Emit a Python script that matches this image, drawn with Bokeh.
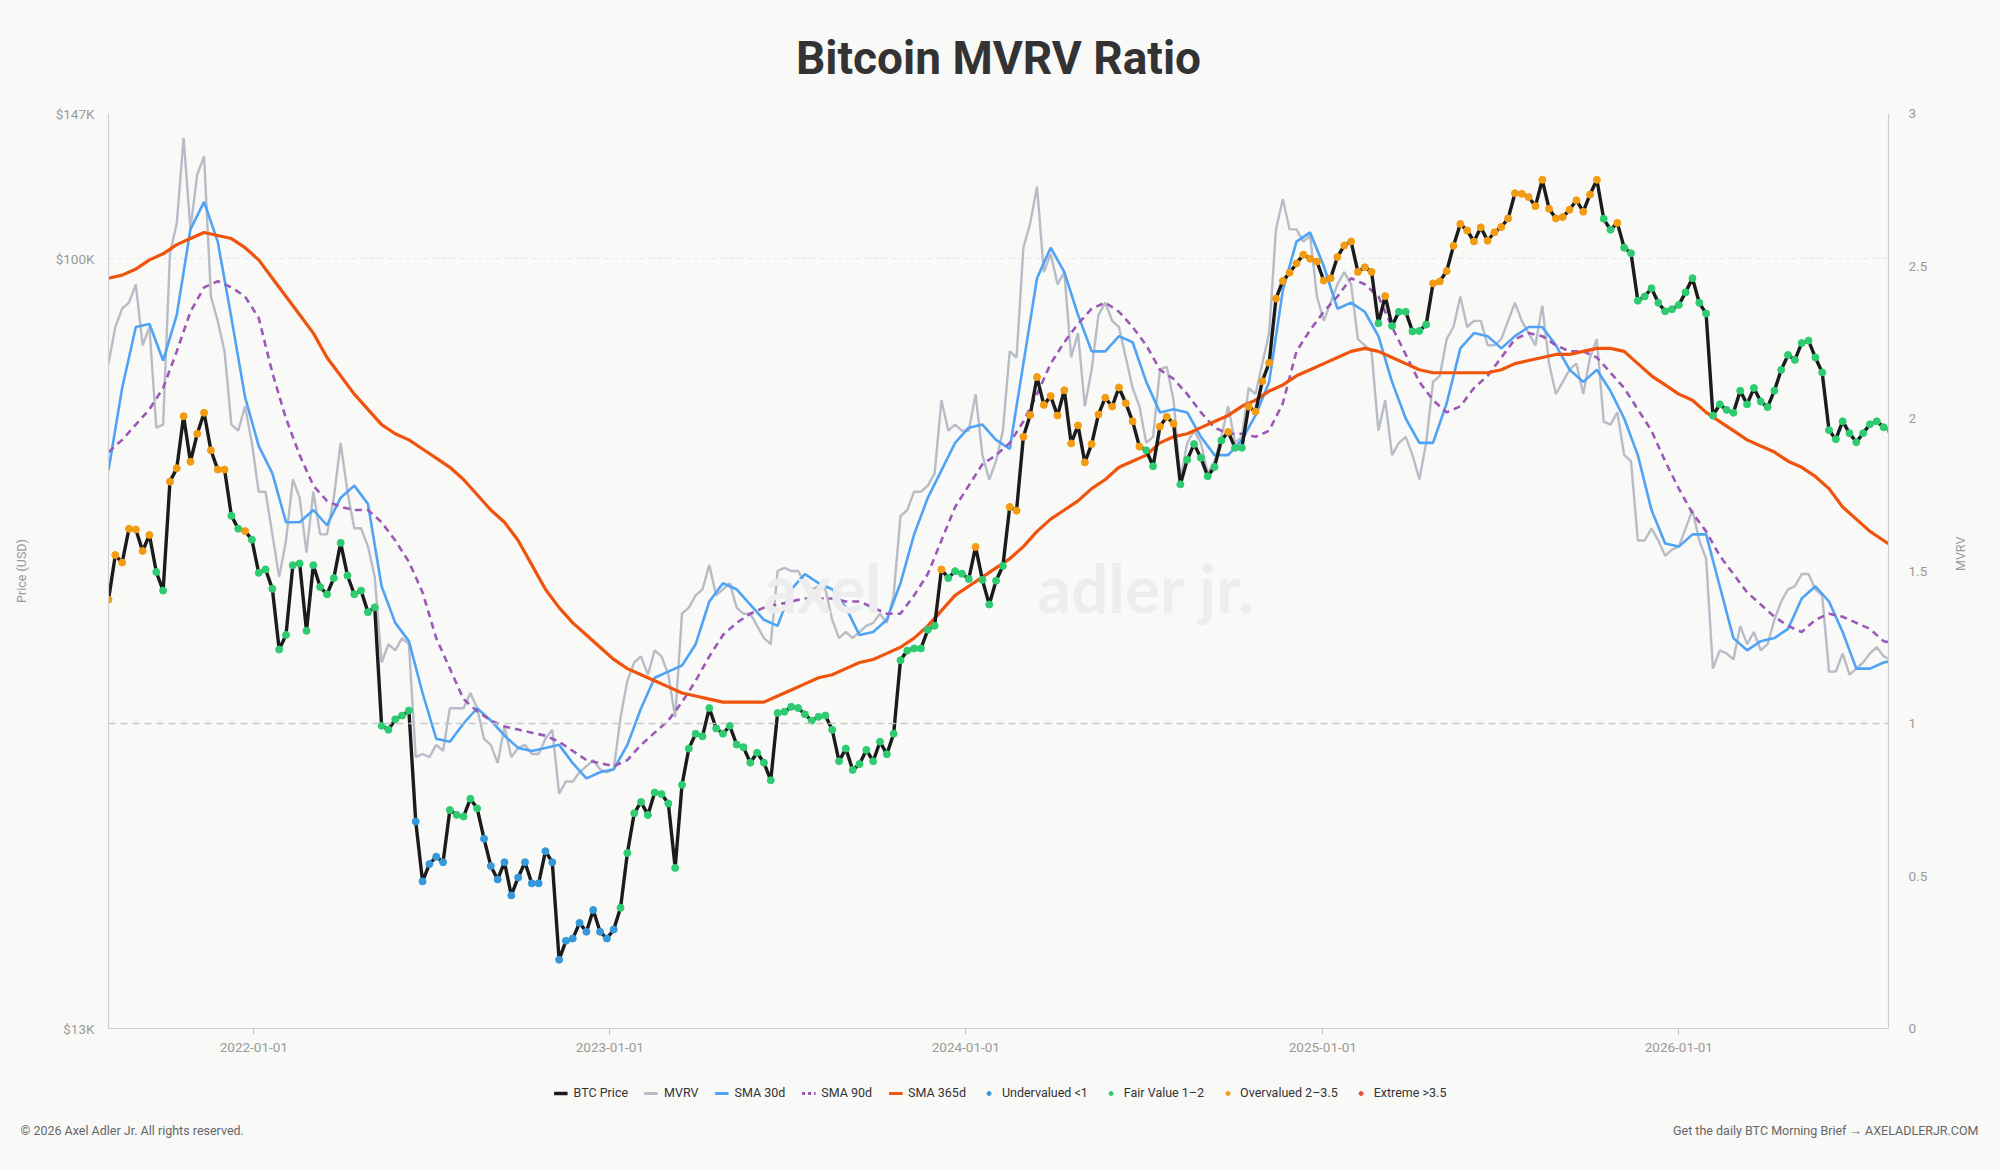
import numpy as np
import pandas as pd
from bokeh.plotting import figure
from bokeh.layouts import column
from bokeh.models import (ColumnDataSource, Range1d, LinearAxis, LinearScale, FixedTicker, Span,
                          Legend, LegendItem, Label, DatetimeTickFormatter)
from bokeh.embed import file_html
from bokeh.resources import INLINE

# ---------------- data (weekly samples) ----------------
start_date = "2021-08-05"
end_date = "2026-08-04"

# BTC price, thousands of USD, weekly
price_k = [
    40.5, 45.6, 44.7, 48.9, 48.8, 46.1, 48.1, 43.6, 41.5, 55.4,
    57.4, 65.9, 58.4, 62.9, 66.5, 60.2, 57.2, 57.2, 50.6, 48.9,
    48.6, 47.5, 43.5, 43.9, 41.7, 35.5, 36.9, 44.4, 44.6, 37.3,
    44.4, 41.9, 41.1, 42.9, 47.1, 43.2, 41.1, 41.5, 39.2, 39.7,
    29.0, 28.7, 29.5, 29.8, 30.2, 22.5, 19.2, 20.1, 20.5, 20.2,
    23.2, 22.9, 22.8, 23.9, 23.3, 21.5, 20.0, 19.3, 20.2, 18.5,
    19.4, 20.2, 19.1, 19.1, 20.8, 20.2, 15.6, 16.4, 16.5, 17.2,
    16.8, 17.8, 16.8, 16.5, 16.9, 17.9, 20.7, 23.0, 23.7, 22.9,
    24.3, 24.2, 23.6, 19.9, 24.8, 27.3, 28.4, 28.2, 30.4, 28.8,
    28.4, 29.0, 27.6, 27.4, 26.3, 27.0, 26.3, 25.1, 30.0, 30.1,
    30.5, 30.4, 29.9, 29.4, 29.7, 29.8, 28.7, 26.4, 27.3, 25.8,
    26.2, 27.2, 26.4, 27.8, 26.9, 28.4, 34.5, 35.4, 35.6, 35.6,
    37.4, 37.8, 43.9, 42.9, 43.7, 43.4, 42.8, 46.6, 42.7, 40.0,
    42.6, 44.3, 51.8, 51.3, 62.4, 66.1, 73.1, 67.9, 69.5, 66.0,
    70.6, 61.3, 64.3, 58.3, 61.2, 66.2, 69.2, 67.6, 71.1, 68.2,
    65.0, 60.8, 60.2, 57.7, 64.1, 65.8, 64.6, 55.0, 58.7, 61.2,
    59.0, 56.2, 57.6, 61.8, 63.2, 60.6, 60.6, 67.6, 66.7, 72.3,
    75.9, 90.0, 94.3, 96.4, 98.8, 101.1, 100.0, 99.3, 94.4, 95.0,
    100.5, 103.6, 104.7, 96.6, 97.8, 96.6, 84.3, 90.6, 83.7, 86.9,
    86.9, 82.5, 82.6, 84.0, 93.7, 94.2, 96.8, 103.5, 109.7, 107.8,
    104.7, 108.7, 104.9, 107.3, 108.8, 111.3, 119.0, 118.8, 117.8, 115.0,
    123.3, 114.2, 111.3, 111.7, 113.9, 116.8, 113.3, 118.6, 123.3, 111.2,
    108.0, 110.0, 103.0, 101.5, 89.5, 90.5, 92.5, 89.0, 87.0, 87.5,
    88.5, 91.5, 95.0, 89.0, 86.5, 66.0, 68.0, 67.0, 66.5, 70.5,
    68.0, 71.0, 68.5, 67.5, 70.5, 74.5, 77.5, 76.5, 80.0, 80.5,
    77.0, 74.0, 63.5, 62.0, 65.0, 63.0, 61.5, 63.0, 64.5, 65.0,
    64.0, 63.5,
]

# MVRV ratio, weekly
mvrv = [
    2.18, 2.30, 2.36, 2.38, 2.44, 2.24, 2.30, 1.97, 1.98, 2.54,
    2.64, 2.92, 2.62, 2.80, 2.86, 2.40, 2.32, 2.22, 1.98, 1.96,
    2.04, 1.92, 1.76, 1.76, 1.62, 1.48, 1.60, 1.80, 1.74, 1.56,
    1.76, 1.62, 1.62, 1.74, 1.92, 1.76, 1.64, 1.64, 1.58, 1.48,
    1.20, 1.26, 1.24, 1.28, 1.26, 0.89, 0.90, 0.89, 0.93, 0.91,
    1.05, 1.05, 1.05, 1.10, 1.05, 0.95, 0.93, 0.87, 0.99, 0.89,
    0.92, 0.93, 0.90, 0.90, 0.95, 0.98, 0.77, 0.81, 0.81, 0.84,
    0.86, 0.88, 0.85, 0.84, 0.85, 1.02, 1.14, 1.20, 1.22, 1.16,
    1.24, 1.22, 1.16, 1.02, 1.36, 1.38, 1.42, 1.44, 1.52, 1.42,
    1.44, 1.46, 1.38, 1.36, 1.36, 1.32, 1.28, 1.26, 1.50, 1.51,
    1.50, 1.50, 1.46, 1.44, 1.45, 1.44, 1.34, 1.28, 1.30, 1.28,
    1.30, 1.32, 1.33, 1.36, 1.33, 1.42, 1.68, 1.70, 1.76, 1.76,
    1.78, 1.82, 2.06, 1.96, 1.98, 1.96, 1.96, 2.08, 1.88, 1.80,
    1.86, 1.96, 2.22, 2.20, 2.56, 2.64, 2.76, 2.48, 2.54, 2.44,
    2.48, 2.20, 2.28, 2.04, 2.16, 2.34, 2.38, 2.32, 2.30, 2.20,
    2.10, 2.04, 1.92, 1.94, 2.16, 2.17, 2.06, 1.80, 1.92, 1.96,
    1.92, 1.82, 1.86, 1.94, 2.04, 1.92, 1.94, 2.10, 2.08, 2.18,
    2.28, 2.62, 2.72, 2.62, 2.62, 2.58, 2.60, 2.40, 2.32, 2.38,
    2.44, 2.48, 2.44, 2.26, 2.24, 2.22, 1.96, 2.06, 1.88, 1.92,
    1.94, 1.88, 1.80, 1.92, 2.12, 2.14, 2.26, 2.30, 2.40, 2.30,
    2.32, 2.32, 2.24, 2.24, 2.26, 2.32, 2.38, 2.32, 2.28, 2.24,
    2.37, 2.18, 2.08, 2.12, 2.16, 2.18, 2.08, 2.20, 2.26, 1.99,
    1.98, 2.02, 1.88, 1.86, 1.60, 1.60, 1.64, 1.60, 1.55, 1.57,
    1.58, 1.64, 1.70, 1.60, 1.54, 1.18, 1.24, 1.23, 1.21, 1.32,
    1.26, 1.30, 1.24, 1.26, 1.34, 1.40, 1.44, 1.45, 1.49, 1.49,
    1.44, 1.42, 1.17, 1.17, 1.23, 1.16, 1.18, 1.20, 1.23, 1.25,
    1.22, 1.21,
]

# Moving averages of MVRV, sampled every two weeks
sma30 = [
    1.83, 2.10, 2.30, 2.31, 2.19, 2.34, 2.62, 2.71, 2.58, 2.33,
    2.07, 1.91, 1.82, 1.66, 1.66, 1.70, 1.65, 1.74, 1.78, 1.72,
    1.45, 1.33, 1.27, 1.10, 0.95, 0.94, 1.00, 1.05, 1.01, 0.96,
    0.92, 0.91, 0.92, 0.93, 0.87, 0.82, 0.84, 0.85, 0.93, 1.05,
    1.15, 1.17, 1.19, 1.26, 1.40, 1.46, 1.44, 1.39, 1.34, 1.32,
    1.44, 1.49, 1.46, 1.44, 1.38, 1.29, 1.30, 1.34, 1.46, 1.62,
    1.74, 1.83, 1.92, 1.97, 1.98, 1.93, 1.90, 2.18, 2.46, 2.56,
    2.48, 2.34, 2.22, 2.22, 2.27, 2.25, 2.12, 2.02, 2.03, 2.02,
    1.94, 1.88, 1.88, 1.93, 2.01, 2.12, 2.42, 2.58, 2.61, 2.50,
    2.36, 2.38, 2.35, 2.27, 2.12, 2.00, 1.92, 1.92, 2.05, 2.23,
    2.28, 2.27, 2.23, 2.27, 2.30, 2.30, 2.24, 2.16, 2.12, 2.16,
    2.09, 2.00, 1.88, 1.70, 1.59, 1.58, 1.62, 1.62, 1.45, 1.28,
    1.24, 1.27, 1.28, 1.31, 1.41, 1.45, 1.40, 1.30, 1.18, 1.18,
    1.20, 1.21,
]
sma90 = [
    1.89, 1.93, 1.98, 2.03, 2.10, 2.22, 2.35, 2.43, 2.45, 2.43,
    2.40, 2.33, 2.15, 2.00, 1.88, 1.78, 1.73, 1.71, 1.70, 1.70,
    1.66, 1.60, 1.53, 1.43, 1.28, 1.18, 1.08, 1.04, 1.01, 0.99,
    0.98, 0.97, 0.96, 0.94, 0.91, 0.88, 0.87, 0.86, 0.88, 0.93,
    0.97, 1.01, 1.07, 1.14, 1.22, 1.29, 1.33, 1.36, 1.38, 1.39,
    1.40, 1.41, 1.41, 1.41, 1.40, 1.40, 1.38, 1.36, 1.36, 1.42,
    1.49, 1.60, 1.71, 1.78, 1.85, 1.88, 1.92, 1.99, 2.08, 2.18,
    2.25, 2.31, 2.36, 2.38, 2.35, 2.30, 2.24, 2.16, 2.13, 2.08,
    2.02, 1.97, 1.95, 1.95, 1.94, 1.96, 2.05, 2.22, 2.29, 2.35,
    2.40, 2.46, 2.44, 2.40, 2.30, 2.21, 2.12, 2.06, 2.02, 2.04,
    2.10, 2.14, 2.20, 2.26, 2.28, 2.27, 2.24, 2.22, 2.22, 2.20,
    2.15, 2.10, 2.03, 1.96, 1.86, 1.77, 1.69, 1.63, 1.55, 1.49,
    1.43, 1.39, 1.35, 1.32, 1.30, 1.34, 1.36, 1.35, 1.33, 1.31,
    1.27, 1.26,
]
sma365 = [
    2.46, 2.47, 2.49, 2.52, 2.54, 2.57, 2.59, 2.61, 2.60, 2.59,
    2.56, 2.52, 2.46, 2.40, 2.34, 2.28, 2.20, 2.14, 2.08, 2.03,
    1.98, 1.95, 1.93, 1.90, 1.87, 1.84, 1.80, 1.75, 1.70, 1.66,
    1.60, 1.52, 1.44, 1.38, 1.33, 1.29, 1.25, 1.21, 1.18, 1.16,
    1.14, 1.12, 1.10, 1.09, 1.08, 1.07, 1.07, 1.07, 1.07, 1.09,
    1.11, 1.13, 1.15, 1.16, 1.18, 1.20, 1.21, 1.23, 1.25, 1.28,
    1.32, 1.37, 1.42, 1.45, 1.48, 1.51, 1.54, 1.58, 1.63, 1.67,
    1.70, 1.73, 1.77, 1.80, 1.84, 1.86, 1.88, 1.92, 1.94, 1.95,
    1.97, 1.99, 2.01, 2.04, 2.06, 2.09, 2.11, 2.14, 2.16, 2.18,
    2.20, 2.22, 2.23, 2.22, 2.20, 2.18, 2.16, 2.15, 2.15, 2.15,
    2.15, 2.15, 2.16, 2.18, 2.19, 2.20, 2.21, 2.21, 2.22, 2.23,
    2.23, 2.22, 2.18, 2.14, 2.11, 2.08, 2.06, 2.02, 1.99, 1.96,
    1.93, 1.91, 1.89, 1.86, 1.84, 1.81, 1.77, 1.71, 1.67, 1.63,
    1.60, 1.57,
]

price_ticks = [13000, 100000, 147000]
price_tick_labels = ["$13K", "$100K", "$147K"]
mvrv_ticks = [0, 0.5, 1, 1.5, 2, 2.5, 3]
mvrv_tick_labels = ["0", "0.5", "1", "1.5", "2", "2.5", "3"]
year_ticks = ["2022-01-01", "2023-01-01", "2024-01-01", "2025-01-01", "2026-01-01"]

zones = [
    ("Undervalued <1", 0.0, 1.0, "#3498db"),
    ("Fair Value 1\u20132", 1.0, 2.0, "#2ecc71"),
    ("Overvalued 2\u20133.5", 2.0, 3.5, "#f39c12"),
    ("Extreme >3.5", 3.5, 99.0, "#e74c3c"),
]

title_text = "Bitcoin MVRV Ratio"
footer_left = "\u00a9 2026 Axel Adler Jr. All rights reserved."
footer_right = "Get the daily BTC Morning Brief \u2192 AXELADLERJR.COM"

# ---------------- styles / layout ----------------
BG = "#f9f9f8"
FONT = "Roboto"
W = 2000
HEAD_H = 100
MAIN_H = 1068 - HEAD_H
FOOT_H = 1170 - 1068
C_PRICE, C_MVRV, C_30, C_90, C_365 = "#1b1b1b", "#b8bcc6", "#4ea3f5", "#9b59b6", "#f0530b"

dates = pd.date_range(start_date, periods=len(price_k), freq="7D")
sma_dates = pd.date_range(start_date, periods=len(sma30), freq="14D")
price = np.array(price_k) * 1000.0
mv = np.array(mvrv)


def strip(height):
    s = figure(width=W, height=height, x_range=Range1d(0, W), y_range=Range1d(0, height),
               output_backend="svg", toolbar_location=None, x_axis_location=None,
               y_axis_location=None, min_border=0, outline_line_color=None,
               background_fill_color=BG, border_fill_color=BG)
    s.grid.visible = False
    s.frame_align = False
    return s


# ---------------- header ----------------
h = strip(HEAD_H)
h.add_layout(Label(x=998, y=HEAD_H - 57, text=title_text, text_align="center",
                   text_baseline="middle", text_font=FONT, text_font_style="bold",
                   text_font_size="46px", text_color="#333333"))

# ---------------- main chart ----------------
p = figure(width=W, height=MAIN_H, x_axis_type="datetime", y_axis_type="log",
           x_range=Range1d(pd.Timestamp(start_date), pd.Timestamp(end_date)),
           y_range=Range1d(13000, 147000),
           output_backend="svg", toolbar_location=None,
           min_border_left=108, min_border_right=W - 1888, min_border_top=113 - HEAD_H,
           min_border_bottom=1068 - 1028,
           background_fill_color=BG, border_fill_color=BG, outline_line_color=None)
p.frame_align = False
p.extra_y_ranges = {"mvrv": Range1d(0, 3)}
p.extra_y_scales = {"mvrv": LinearScale()}

# left axis (price, log)
ya = p.yaxis[0]
ya.ticker = FixedTicker(ticks=price_ticks)
ya.major_label_overrides = {t: l for t, l in zip(price_ticks, price_tick_labels)}
ya.axis_label = "Price (USD)"
ya.axis_label_standoff = 24

# bottom axis
xa = p.xaxis[0]
xa.ticker = FixedTicker(ticks=[pd.Timestamp(d).value // 10**6 for d in year_ticks])
fmt = "%Y-%m-%d"
xa.formatter = DatetimeTickFormatter(years=fmt, months=fmt, days=fmt, hours=fmt,
                                     minutes=fmt, seconds=fmt, milliseconds=fmt,
                                     microseconds=fmt, hourmin=fmt, minsec=fmt)

# right axis (MVRV) - label reads bottom-to-top like the left one
ra = LinearAxis(y_range_name="mvrv", ticker=FixedTicker(ticks=mvrv_ticks), axis_label="MVRV")
ra.major_label_overrides = {t: l for t, l in zip(mvrv_ticks, mvrv_tick_labels)}
ra.axis_label_standoff = 30
try:
    ra.axis_label_orientation = 1.5707963
except Exception:
    pass
p.add_layout(ra, "right")

for ax in [ya, xa, ra]:
    ax.axis_line_color = "#cfcfcf"
    ax.axis_line_width = 1.2
    ax.major_tick_line_color = None
    ax.minor_tick_line_color = None
    ax.major_label_text_color = "#9a9a9a"
    ax.major_label_text_font = FONT
    ax.major_label_text_font_size = "13.5px"
    ax.axis_label_text_color = "#9a9a9a"
    ax.axis_label_text_font = FONT
    ax.axis_label_text_font_size = "12.5px"
    ax.axis_label_text_font_style = "normal"
xa.major_tick_line_color = "#bdbdbd"
xa.major_tick_out = 6
xa.major_tick_in = 0
xa.major_label_standoff = 8
ya.major_label_standoff = 8
ra.major_label_standoff = 14

p.xgrid.visible = False
p.ygrid.ticker = FixedTicker(ticks=price_ticks[1:])
p.ygrid.grid_line_color = "#e7e7e7"
p.ygrid.grid_line_dash = "5 4"
p.ygrid.grid_line_width = 1.2

# watermark
for txt, xs in [("axel", 655), ("adler jr.", 929)]:
    p.add_layout(Label(x=xs, y=441, x_units="screen", y_units="screen", text=txt,
                       text_font="Lato", text_font_style="bold", text_font_size="66px",
                       text_color="#ededed", text_baseline="alphabetic"))

# MVRV = 1 reference
p.add_layout(Span(location=1, dimension="width", y_range_name="mvrv",
                  line_color="#c8c8c8", line_dash="7 5", line_width=1.5))

p.line(dates, mv, y_range_name="mvrv", line_color=C_MVRV, line_width=2.4)
p.line(sma_dates, sma30, y_range_name="mvrv", line_color=C_30, line_width=2.6)
p.line(sma_dates, sma90, y_range_name="mvrv", line_color=C_90, line_width=2.6, line_dash="7 5")
p.line(sma_dates, sma365, y_range_name="mvrv", line_color=C_365, line_width=3.2)
p.line(dates, price, line_color=C_PRICE, line_width=3.4)

for label, lo, hi, color in zones:
    m = (mv >= lo) & (mv < hi)
    src = ColumnDataSource(dict(x=dates[m], y=price[m]))
    p.scatter("x", "y", source=src, size=7, fill_color=color, line_color=color)

# ---------------- footer strip: legend + credits ----------------
f = strip(FOOT_H)


def blank():
    # legend-only renderer: no visible mark
    return ColumnDataSource(dict(x=[np.nan], y=[np.nan]))


items = [
    LegendItem(label="BTC Price", renderers=[f.line("x", "y", source=blank(), line_color=C_PRICE, line_width=3.4)]),
    LegendItem(label="MVRV", renderers=[f.line("x", "y", source=blank(), line_color=C_MVRV, line_width=3)]),
    LegendItem(label="SMA 30d", renderers=[f.line("x", "y", source=blank(), line_color=C_30, line_width=3)]),
    LegendItem(label="SMA 90d", renderers=[f.line("x", "y", source=blank(), line_color=C_90, line_width=3, line_dash="3 3")]),
    LegendItem(label="SMA 365d", renderers=[f.line("x", "y", source=blank(), line_color=C_365, line_width=3)]),
]
for label, lo, hi, color in zones:
    r = f.scatter("x", "y", source=blank(), size=8, fill_color=color, line_color=color)
    items.append(LegendItem(label=label, renderers=[r]))
legend = Legend(items=items, orientation="horizontal", location="top_center",
                background_fill_alpha=0, border_line_color=None,
                label_text_font=FONT, label_text_font_size="12.5px",
                label_text_color="#333333", glyph_width=14, glyph_height=10,
                spacing=16, label_standoff=6, padding=0, margin=17)
f.add_layout(legend, "center")

f.add_layout(Label(x=20, y=FOOT_H - 62, text=footer_left, text_align="left",
                   text_baseline="middle", text_font=FONT, text_font_size="12.5px",
                   text_color="#666666"))
f.add_layout(Label(x=1978, y=FOOT_H - 62, text=footer_right, text_align="right",
                   text_baseline="middle", text_font=FONT, text_font_size="12.5px",
                   text_color="#666666"))

layout = column(h, p, f, spacing=0, styles={"background-color": BG})
open("out.html", "w").write(file_html(layout, INLINE))
